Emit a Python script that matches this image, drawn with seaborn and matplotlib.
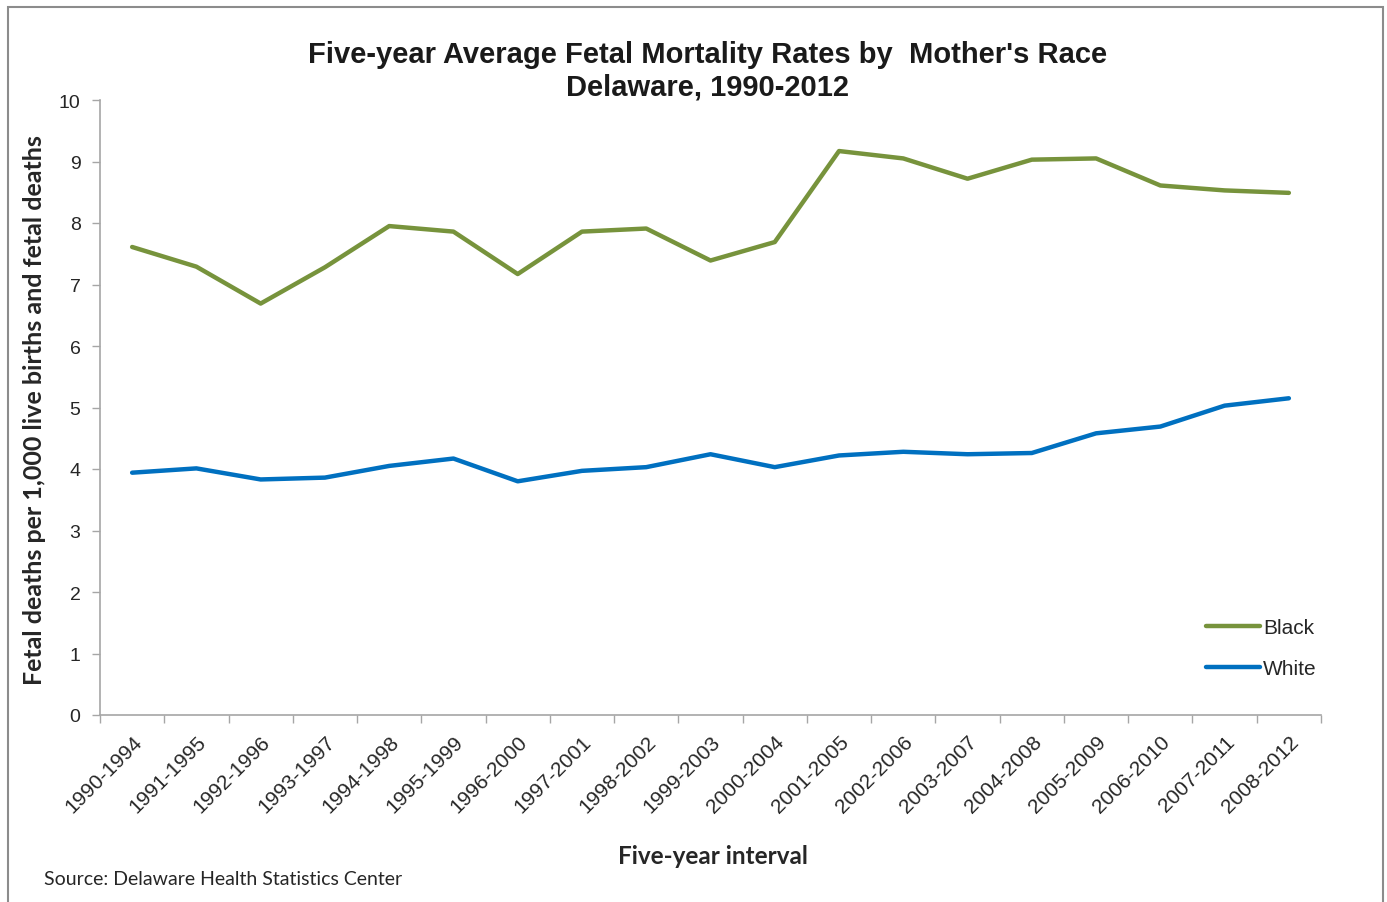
import matplotlib
matplotlib.use("Agg")
import matplotlib.pyplot as plt
from matplotlib.patches import Rectangle
from matplotlib.ticker import FixedLocator
import seaborn as sns
import pandas as pd

intervals = ['1990-1994', '1991-1995', '1992-1996', '1993-1997', '1994-1998',
             '1995-1999', '1996-2000', '1997-2001', '1998-2002', '1999-2003',
             '2000-2004', '2001-2005', '2002-2006', '2003-2007', '2004-2008',
             '2005-2009', '2006-2010', '2007-2011', '2008-2012']
black = [7.61, 7.29, 6.69, 7.28, 7.95, 7.86, 7.17, 7.86, 7.91, 7.39,
         7.69, 9.17, 9.05, 8.72, 9.03, 9.05, 8.61, 8.53, 8.49]
white = [3.94, 4.01, 3.83, 3.86, 4.05, 4.17, 3.80, 3.97, 4.03, 4.24,
         4.03, 4.22, 4.28, 4.24, 4.26, 4.58, 4.69, 5.03, 5.15]

df = pd.DataFrame({'interval': intervals * 2,
                   'rate': black + white,
                   'race': ['Black'] * len(intervals) + ['White'] * len(intervals)})

sns.set_style('white')
plt.rcParams['font.family'] = ['Liberation Sans', 'DejaVu Sans']

fig = plt.figure(figsize=(13.87, 9.03), dpi=100)
ax = fig.add_axes([100/1387, 1 - 716/903, 1221/1387, 615/903])

sns.lineplot(data=df, x='interval', y='rate', hue='race', sort=False,
             palette={'Black': '#77933C', 'White': '#0070C0'},
             linewidth=3.2, ax=ax)

ax.set_xlim(-0.5, len(intervals) - 0.5)
ax.set_ylim(0, 10)
ax.set_yticks(range(0, 11))
ax.set_xticks(range(len(intervals)))
ax.set_xticklabels(intervals, rotation=45, ha='right', rotation_mode='anchor',
                   fontsize=15, color='#262626')
ax.xaxis.set_minor_locator(FixedLocator([i - 0.5 for i in range(len(intervals) + 1)]))
ax.tick_params(axis='x', which='major', length=0, pad=12)
ax.tick_params(axis='x', which='minor', length=6, width=1, color='#a6a6a6', direction='out', bottom=True)
ax.tick_params(axis='y', length=6, width=1, color='#a6a6a6', direction='out', left=True,
               labelsize=14, labelcolor='#262626', pad=8)

for side in ['top', 'right']:
    ax.spines[side].set_visible(False)
for side in ['left', 'bottom']:
    ax.spines[side].set_color('#a6a6a6')
    ax.spines[side].set_linewidth(1.2)

ax.set_xlabel('')
ax.set_ylabel('Fetal deaths per 1,000 live births and fetal deaths',
              fontsize=18, fontweight='bold', family=['Lato', 'DejaVu Sans'])
ax.yaxis.set_label_coords(-0.044, 0.497)

leg = ax.legend(loc='lower right', bbox_to_anchor=(1.012, 0.03), frameon=False,
                fontsize=15, handlelength=2.6, handletextpad=0.15, labelspacing=1.05)
for line in leg.get_lines():
    line.set_linewidth(3.2)

fig.text(708/1387, 1 - 55/903, "Five-year Average Fetal Mortality Rates by  Mother's Race",
         ha='center', va='center', fontsize=21, fontweight='bold', color='#1a1a1a')
fig.text(708/1387, 1 - 88/903, "Delaware, 1990-2012",
         ha='center', va='center', fontsize=21, fontweight='bold', color='#1a1a1a')
fig.text(713/1387, 1 - 857/903, 'Five-year interval', ha='center', va='center',
         fontsize=17.5, fontweight='bold', family=['Lato', 'DejaVu Sans'])
fig.text(44/1387, 1 - 880/903, 'Source: Delaware Health Statistics Center', ha='left', va='center',
         fontsize=14, family=['Lato', 'DejaVu Sans'], color='#262626')

fig.patches.append(Rectangle((8/1387, -0.02), 1375/1387, 1.02 - 8/903,
                             transform=fig.transFigure, fill=False,
                             edgecolor='#8c8c8c', linewidth=1.5))

fig.savefig('out.png', dpi=100)
